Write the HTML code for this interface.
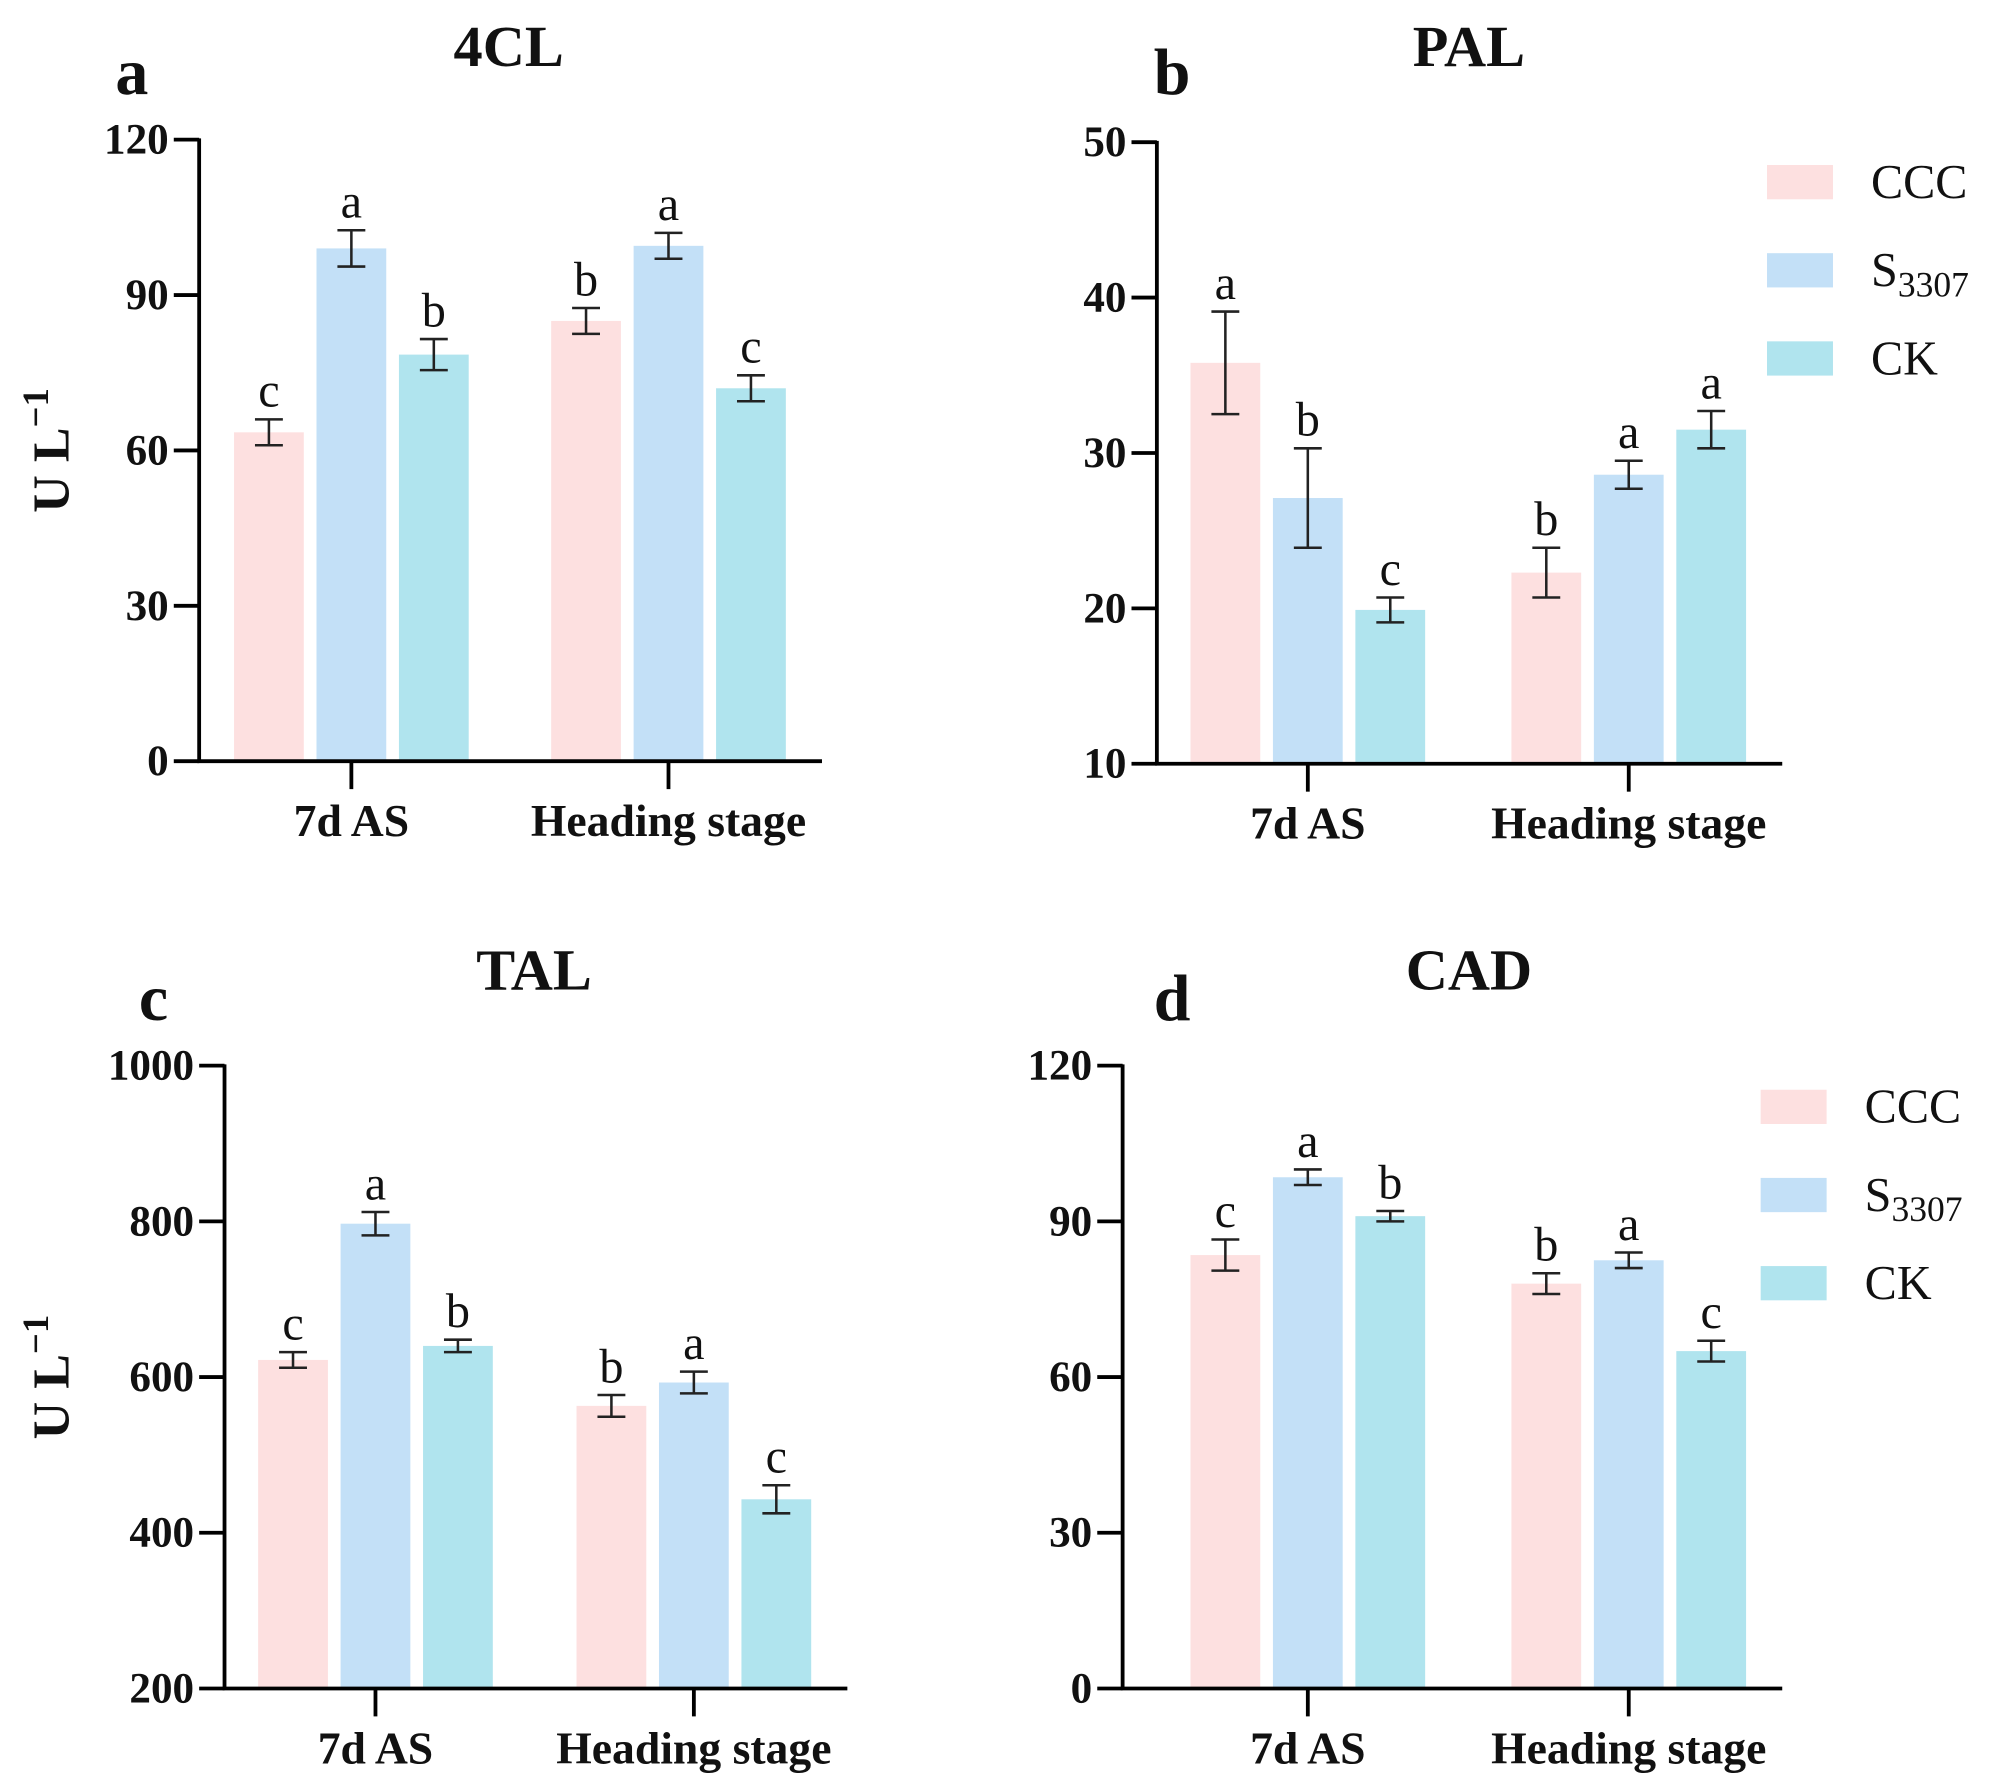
<!DOCTYPE html>
<html><head><meta charset="utf-8"><style>
html,body{margin:0;padding:0;background:#fff}
svg{display:block}
text{font-family:"Liberation Serif",serif;fill:#111}
</style></head><body>
<svg id="fig" width="1989" height="1785" viewBox="0 0 1568 1407" xmlns="http://www.w3.org/2000/svg"></svg>
<script>
const groups = ["7d AS", "Heading stage"];
const series = ["CCC", "S3307", "CK"];
const colors = ["#fde0e0", "#c3e0f7", "#b0e4ee"];

const titles = ["4CL", "PAL", "TAL", "CAD"];
const panelLetters = ["a", "b", "c", "d"];

const vals4CL = [[63.5, 99, 78.5], [85, 99.5, 72]];
const err4CL = [[2.5, 3.5, 3], [2.5, 2.5, 2.5]];
const let4CL = [["c", "a", "b"], ["b", "a", "c"]];
const ticks4CL = [0, 30, 60, 90, 120];

const valsPAL = [[35.8, 27.1, 19.9], [22.3, 28.6, 31.5]];
const errPAL = [[3.3, 3.2, 0.8], [1.6, 0.9, 1.2]];
const letPAL = [["a", "b", "c"], ["b", "a", "a"]];
const ticksPAL = [10, 20, 30, 40, 50];

const valsTAL = [[622, 797, 640], [563, 593, 443]];
const errTAL = [[10, 15, 8], [14, 14, 18]];
const letTAL = [["c", "a", "b"], ["b", "a", "c"]];
const ticksTAL = [200, 400, 600, 800, 1000];

const valsCAD = [[83.5, 98.5, 91], [78, 82.5, 65]];
const errCAD = [[3, 1.5, 1], [2, 1.5, 2]];
const letCAD = [["c", "a", "b"], ["b", "a", "c"]];
const ticksCAD = [0, 30, 60, 90, 120];

const svg = document.getElementById('fig');
const NS = "http://www.w3.org/2000/svg";
function mk(tag, attrs, parent) {
  const e = document.createElementNS(NS, tag);
  for (const k in attrs) e.setAttribute(k, attrs[k]);
  (parent || svg).appendChild(e);
  return e;
}

function panel(cfg) {
  const g = mk('g', {});
  
  
  const t = cfg.ticks;
  const ymin = t[0], ymax = t[t.length - 1];
  const y = v => cfg.y0 + (v - ymin) / (ymax - ymin) * (cfg.y1 - cfg.y0);
  const tt = mk('text', {x: cfg.titleX, y: cfg.titleY, 'text-anchor': 'middle', 'font-size': 46, 'font-weight': 'bold'}, g);
  tt.textContent = cfg.title;
  
  
  const pl = mk('text', {x: cfg.letterX, y: cfg.letterY, 'text-anchor': 'middle', 'font-size': 52, 'font-weight': 'bold'}, g);
  pl.textContent = cfg.letter;
  
  
  const bw = 55, step = 65;
  cfg.vals.forEach((gv, gi) => {
    const cx = cfg.groupX[gi];
    gv.forEach((v, si) => {
      const bx = cx - step + si * step - bw / 2;
      const yt = y(v), yb = y(ymin);
      const r = mk('rect', {x: bx, y: yt, width: bw, height: yb - yt, fill: colors[si]}, g);
      
      
      const e = cfg.errs[gi][si];
      const mx = bx + bw / 2;
      const eb = mk('path', {d: `M${mx},${y(v + e)}V${y(v - e)}M${mx - 11},${y(v + e)}H${mx + 11}M${mx - 11},${y(v - e)}H${mx + 11}`, stroke: '#222', 'stroke-width': 2, fill: 'none'}, g);
      
      
      const lt = mk('text', {x: mx, y: y(v + e) - 10, 'text-anchor': 'middle', 'font-size': 38}, g);
      lt.textContent = cfg.letters[gi][si];
      
      
    });
    const tk = mk('line', {x1: cx, x2: cx, y1: cfg.y0, y2: cfg.y0 + 22, stroke: '#000', 'stroke-width': 3}, g);
    
    
    const xl = mk('text', {x: cx, y: cfg.y0 + 59, 'text-anchor': 'middle', 'font-size': 36, 'font-weight': 'bold'}, g);
    xl.textContent = groups[gi];
    
    
  });
  const ax = mk('path', {d: `M${cfg.ax},${cfg.y1 - 1}V${cfg.y0}H${cfg.axEnd}`, stroke: '#000', 'stroke-width': 3, fill: 'none'}, g);
  
  
  t.forEach(v => {
    const l = mk('line', {x1: cfg.ax - 20, x2: cfg.ax, y1: y(v), y2: y(v), stroke: '#000', 'stroke-width': 3}, g);
    
    
    const tl = mk('text', {x: cfg.ax - 24, y: y(v) + 11, 'text-anchor': 'end', 'font-size': 34, 'font-weight': 'bold'}, g);
    tl.textContent = v;
    
    
  });
  if (cfg.ylabel) {
    const yl = mk('text', {x: 0, y: 0, 'text-anchor': 'middle', 'font-size': 41, 'font-weight': 'bold', transform: `translate(54,${(cfg.y0 + cfg.y1) / 2}) rotate(-90)`}, g);
    yl.innerHTML = 'U L<tspan dy="-16" font-size="29">−1</tspan>';
    
    
  }
  if (cfg.legendX) {
    series.forEach((s, i) => {
      const ly = cfg.legendY + i * 69.5;
      const sw = mk('rect', {x: cfg.legendX, y: ly - 13, width: 52, height: 27, fill: colors[i]}, g);
      
      
      const lt = mk('text', {x: cfg.legendX + 82, y: ly + 13, 'font-size': 38}, g);
      lt.innerHTML = s === 'S3307' ? 'S<tspan dy="8" font-size="28">3307</tspan>' : s;
      
      
    });
  }
}

panel({title: titles[0], letter: panelLetters[0], titleX: 401, titleY: 52, letterX: 104, letterY: 74,
  ax: 157, axEnd: 648, y0: 600, y1: 110, groupX: [277, 527], ticks: ticks4CL, vals: vals4CL, errs: err4CL, letters: let4CL, ylabel: true});
panel({title: titles[1], letter: panelLetters[1], titleX: 1158, titleY: 52, letterX: 924, letterY: 74,
  ax: 912, axEnd: 1405, y0: 602, y1: 112, groupX: [1031, 1284], ticks: ticksPAL, vals: valsPAL, errs: errPAL, letters: letPAL, legendX: 1393, legendY: 143});
panel({title: titles[2], letter: panelLetters[2], titleX: 421, titleY: 780, letterX: 121, letterY: 804,
  ax: 177, axEnd: 668, y0: 1331, y1: 840, groupX: [296, 547], ticks: ticksTAL, vals: valsTAL, errs: errTAL, letters: letTAL, ylabel: true});
panel({title: titles[3], letter: panelLetters[3], titleX: 1158, titleY: 780, letterX: 924, letterY: 804,
  ax: 885, axEnd: 1405, y0: 1331, y1: 840, groupX: [1031, 1284], ticks: ticksCAD, vals: valsCAD, errs: errCAD, letters: letCAD, legendX: 1388, legendY: 872});
</script>
</body></html>
